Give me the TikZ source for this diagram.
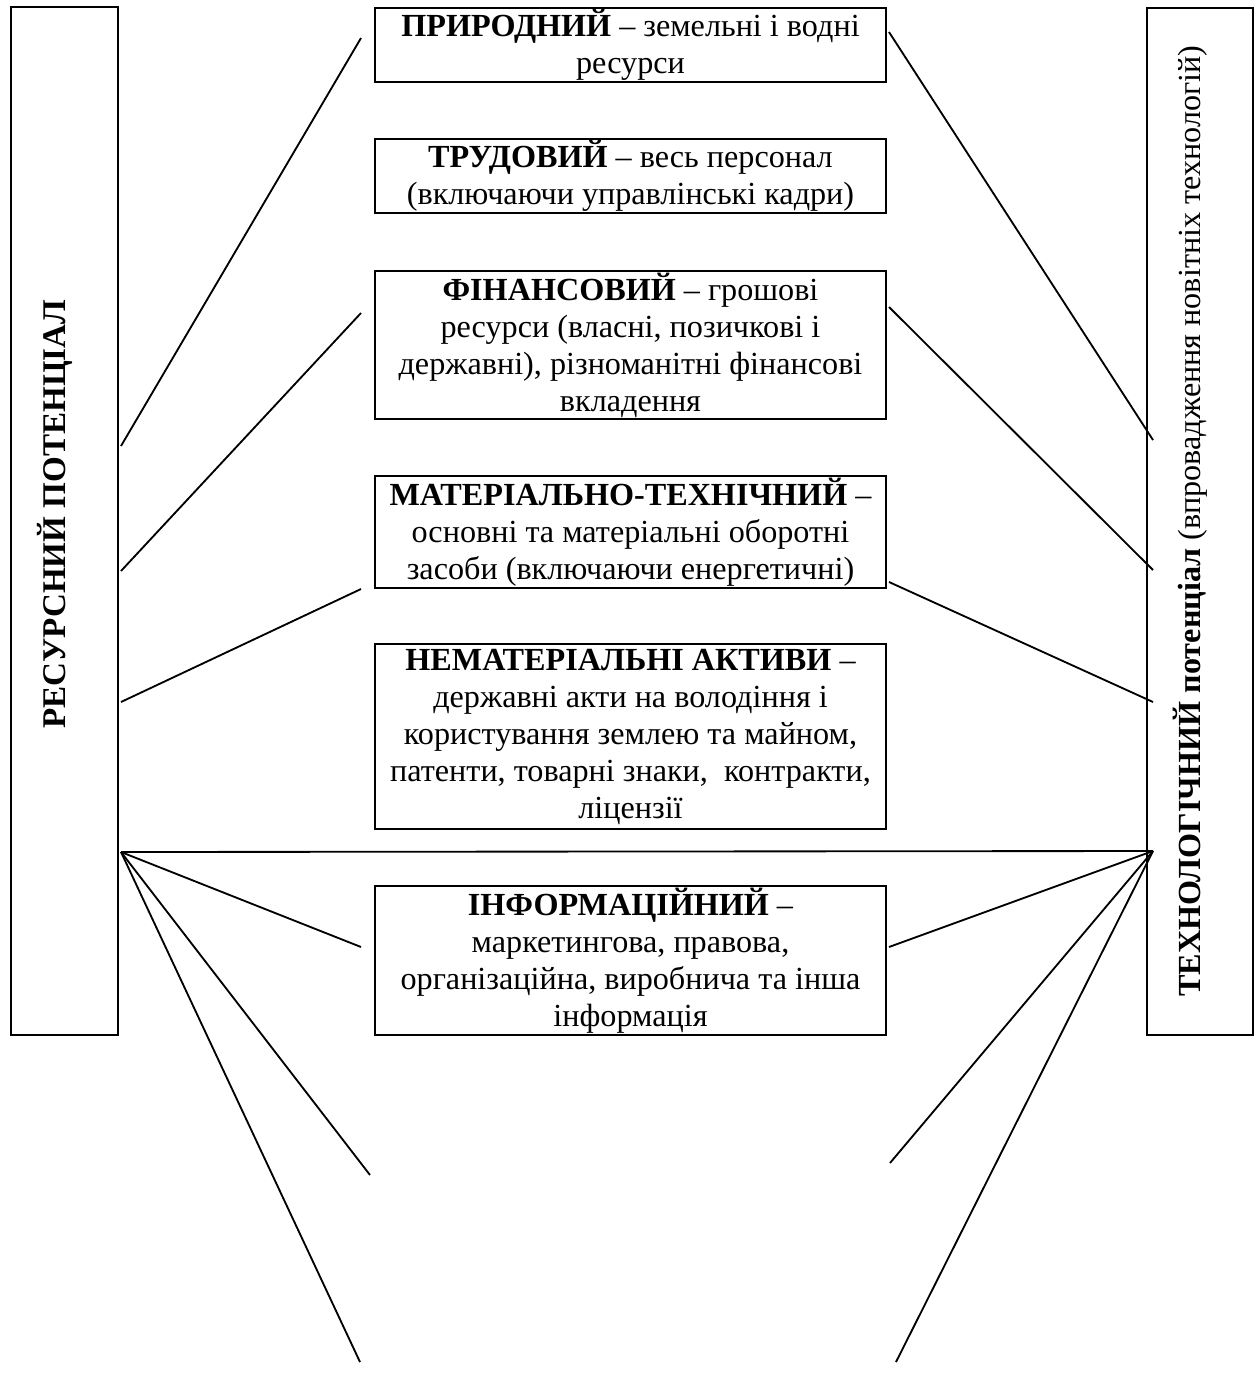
\documentclass[tikz,border=0pt]{standalone}
\usepackage{fontspec}
\setmainfont{Liberation Serif}
\begin{document}
\begin{tikzpicture}[x=0.435pt,y=-0.435pt,
  potbox/.style={draw, line width=1pt, rectangle, minimum width=46.4pt, minimum height=447pt, inner sep=0pt},
  kind/.style={draw, line width=1pt, rectangle, align=center, minimum width=222.3pt, inner sep=0pt, font=\fontsize{14}{16.1}\selectfont},
  vtext/.style={rotate=90, inner sep=0pt, font=\fontsize{14}{16.1}\selectfont},
  link/.style={line width=0.8pt}]
\useasboundingbox (0,0) rectangle (1256,1375);

\node(Res)[potbox] at (64.5,521) {};
\node(Tech)[potbox] at (1200,521.5) {};
\node(ResT)[vtext, font=\fontsize{14.4}{16.1}\selectfont] at (55,514) {\textbf{РЕСУРСНИЙ ПОТЕНЦІАЛ}};
\node(TechT)[vtext] at (1190,521) {\textbf{ТЕХНОЛОГІЧНИЙ потенціал} (впровадження новітніх технологій)};

\node(Pryr)[kind, minimum height=32.2pt] at (630.5,45) {\textbf{ПРИРОДНИЙ} – земельні і водні\\ресурси};
\node(Trud)[kind, minimum height=32.2pt] at (630.5,176) {\textbf{ТРУДОВИЙ} – весь персонал\\(включаючи управлінські кадри)};
\node(Fin)[kind, minimum height=64.4pt] at (630.5,345) {\textbf{ФІНАНСОВИЙ} – грошові\\ресурси (власні, позичкові і\\державні), різноманітні фінансові\\вкладення};
\node(Mat)[kind, minimum height=48.7pt] at (630.5,532) {\textbf{МАТЕРІАЛЬНО-ТЕХНІЧНИЙ} –\\основні та матеріальні оборотні\\засоби (включаючи енергетичні)};
\node(Nemat)[kind, minimum height=80.5pt] at (630.5,736.5) {\textbf{НЕМАТЕРІАЛЬНІ АКТИВИ} –\\державні акти на володіння і\\користування землею та майном,\\патенти, товарні знаки,\ \ контракти,\\ліцензії};
\node(Inf)[kind, minimum height=64.8pt] at (630.5,960.5) {\textbf{ІНФОРМАЦІЙНИЙ} –\\маркетингова, правова,\\організаційна, виробнича та інша\\інформація};

% points at the side boxes
\coordinate(Lhub) at (121,852);
\coordinate(Rhub) at (1153,851);
\coordinate(L1) at (121,446);
\coordinate(L2) at (121,571);
\coordinate(L3) at (121,702);
\coordinate(R1) at (1153,440);
\coordinate(R2) at (1153,570);
\coordinate(R3) at (1153,702);
% points near the middle boxes
\coordinate(PryrW) at (361,38);
\coordinate(FinW) at (361,313);
\coordinate(MatW) at (361,589);
\coordinate(InfW) at (361,947);
\coordinate(PryrE) at (889,32);
\coordinate(FinE) at (889,307);
\coordinate(MatE) at (889,582);
\coordinate(InfE) at (889,947);
% free ends below
\coordinate(BL1) at (370,1175);
\coordinate(BL2) at (360,1362);
\coordinate(BR1) at (890,1163);
\coordinate(BR2) at (896,1362);

\draw[link] (L1) -- (PryrW);
\draw[link] (L2) -- (FinW);
\draw[link] (L3) -- (MatW);
\draw[link] (PryrE) -- (R1);
\draw[link] (FinE) -- (R2);
\draw[link] (MatE) -- (R3);
\draw[link] (Lhub) -- (Rhub);
\draw[link] (Lhub) -- (InfW);
\draw[link] (Lhub) -- (BL1);
\draw[link] (Lhub) -- (BL2);
\draw[link] (InfE) -- (Rhub);
\draw[link] (BR1) -- (Rhub);
\draw[link] (BR2) -- (Rhub);
\end{tikzpicture}
\end{document}
